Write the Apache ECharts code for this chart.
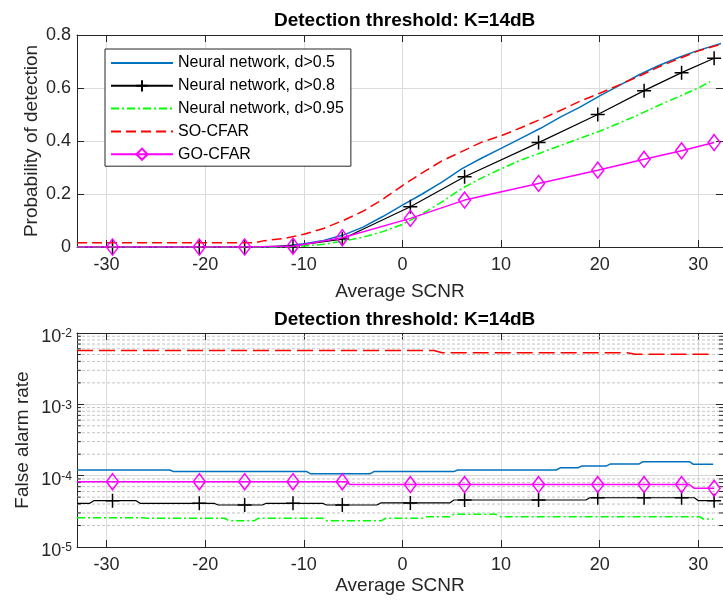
<!DOCTYPE html>
<html><head><meta charset="utf-8">
<script src="https://cdn.jsdelivr.net/npm/echarts@6/dist/echarts.min.js"></script>
<style>html,body{margin:0;padding:0;background:#fff}#c{width:723px;height:604px}</style>
</head><body><div id="c"></div>
<script>
const FONT = '"Liberation Sans", Arial, Helvetica, sans-serif';
const titleText = 'Detection threshold: K=14dB';
const xName = 'Average SCNR';
const pdName = 'Probability of detection';
const farName = 'False alarm rate';
const seriesNames = ['Neural network, d>0.5', 'Neural network, d>0.8', 'Neural network, d>0.95', 'SO-CFAR', 'GO-CFAR'];

// SCNR axis range
const xMin = -33, xMax = 32.5;

// SCNR positions of the markers
const markerX = [-29.4, -20.6, -16, -11.1, -6.1, 0.8, 6.3, 13.8, 19.8, 24.5, 28.3, 31.6];

// ---- Top: probability of detection ----
const pdBlueX = [-33, -13, -12, -10, -8, -6, -4, -2, 0, 2, 4, 6, 8, 10, 12, 14, 16, 18, 20, 22, 24, 26, 28, 30, 32.3];
const pdBlueY = [0, 0, 0.004, 0.012, 0.025, 0.045, 0.075, 0.115, 0.158, 0.2, 0.245, 0.295, 0.335, 0.372, 0.41, 0.448, 0.49, 0.528, 0.57, 0.61, 0.65, 0.685, 0.715, 0.742, 0.768];
const pdBlackX = [-33, -29.4, -20.6, -16, -11.1, -6.1, 0.8, 6.3, 13.8, 19.8, 24.5, 28.3, 31.6];
const pdBlackY = [0, 0, 0, 0, 0.004, 0.03, 0.152, 0.265, 0.394, 0.5, 0.59, 0.658, 0.712];
const pdGreenX = [-33, -12, -10, -8, -6, -4, -2, 0, 2, 4, 6, 8, 10, 12, 14, 16, 18, 20, 22, 24, 26, 28, 30, 31.2];
const pdGreenY = [0, 0, 0.004, 0.01, 0.022, 0.037, 0.058, 0.085, 0.125, 0.17, 0.22, 0.26, 0.295, 0.328, 0.355, 0.383, 0.41, 0.437, 0.468, 0.5, 0.535, 0.567, 0.6, 0.624];
const pdRedX = [-33, -15, -14, -12, -10, -8, -6, -4, -2, 0, 2, 4, 6, 8, 10, 12, 14, 16, 18, 20, 22, 24, 26, 28, 30, 32.3];
const pdRedY = [0.016, 0.016, 0.024, 0.032, 0.048, 0.07, 0.1, 0.135, 0.18, 0.232, 0.28, 0.325, 0.36, 0.395, 0.42, 0.45, 0.482, 0.515, 0.55, 0.58, 0.612, 0.645, 0.68, 0.71, 0.74, 0.765];
const pdMagX = [-33, -29.4, -20.6, -16, -11.1, -6.1, 0.8, 6.3, 13.8, 19.8, 24.5, 28.3, 31.6];
const pdMagY = [0, 0, 0, 0, 0.003, 0.035, 0.108, 0.177, 0.24, 0.29, 0.331, 0.363, 0.394];

// ---- Bottom: false alarm rate ----
const farBlueX = [-33, -23.6, -23.2, -9.7, -9.3, -3.3, -2.9, 5.2, 5.6, 15.6, 16.0, 17.8, 18.2, 20.7, 21.1, 24.0, 24.4, 29.1, 29.5, 31.5];
const farBlueY = [1.2e-4, 1.2e-4, 1.14e-4, 1.14e-4, 1.06e-4, 1.06e-4, 1.14e-4, 1.14e-4, 1.2e-4, 1.2e-4, 1.29e-4, 1.29e-4, 1.37e-4, 1.37e-4, 1.46e-4, 1.46e-4, 1.57e-4, 1.57e-4, 1.44e-4, 1.44e-4];
const farBlackX = [-33, -31.7, -31.3, -29.4, -27.0, -26.6, -20.6, -19.1, -18.7, -16, -14.2, -13.8, -11.1, -8.1, -7.7, -6.1, -2.6, -2.2, 0.8, 4.8, 5.2, 6.3, 13.8, 18.6, 19.0, 19.8, 24.5, 28.3, 29.6, 30.0, 31.6];
const farBlackY = [4.1e-5, 4.1e-5, 4.46e-5, 4.46e-5, 4.46e-5, 4.1e-5, 4.1e-5, 4.1e-5, 3.88e-5, 3.88e-5, 3.88e-5, 4.1e-5, 4.1e-5, 4.1e-5, 3.88e-5, 3.88e-5, 3.88e-5, 4.15e-5, 4.15e-5, 4.15e-5, 4.56e-5, 4.56e-5, 4.56e-5, 4.56e-5, 4.9e-5, 4.9e-5, 4.9e-5, 4.9e-5, 4.9e-5, 4.46e-5, 4.46e-5];
const farGreenX = [-33, -26.3, -25.9, -18.0, -17.6, -15.0, -14.6, -8.1, -7.7, -2.1, -1.7, 2.1, 2.5, 4.8, 5.2, 9.5, 9.9, 30.1, 30.5, 31.5];
const farGreenY = [2.58e-5, 2.58e-5, 2.53e-5, 2.53e-5, 2.34e-5, 2.34e-5, 2.53e-5, 2.53e-5, 2.34e-5, 2.34e-5, 2.53e-5, 2.53e-5, 2.66e-5, 2.66e-5, 2.87e-5, 2.87e-5, 2.66e-5, 2.66e-5, 2.47e-5, 2.47e-5];
const farRedX = [-33, 3.2, 4.0, 22.8, 23.6, 31.5];
const farRedY = [5.7e-3, 5.7e-3, 5.3e-3, 5.3e-3, 5.05e-3, 5.05e-3];
const farMagX = [-33, -29.4, -20.6, -16, -11.1, -6.1, -5.7, -5.3, 0.8, 6.3, 13.8, 19.8, 24.5, 28.3, 29.1, 29.6, 31.6];
const farMagY = [8.24e-5, 8.24e-5, 8.24e-5, 8.24e-5, 8.24e-5, 8.24e-5, 8.24e-5, 7.5e-5, 7.5e-5, 7.5e-5, 7.5e-5, 7.5e-5, 7.5e-5, 7.5e-5, 7.5e-5, 6.65e-5, 6.65e-5];

// log-axis minor grid / tick values
const farMinorTicks = [2e-5, 3e-5, 4e-5, 5e-5, 6e-5, 7e-5, 8e-5, 9e-5,
  2e-4, 3e-4, 4e-4, 5e-4, 6e-4, 7e-4, 8e-4, 9e-4,
  2e-3, 3e-3, 4e-3, 5e-3, 6e-3, 7e-3, 8e-3, 9e-3];
const minorTickLen = 0.4; // in SCNR units (~4 px)

const COL = { blue: '#0072BD', black: '#000000', green: '#00FF00', red: '#FF0000', mag: '#FF00FF' };
const AX = '#262626';
const PLUS = 'path://M5,0L5,10M0,5L10,5';

function pairs(xs, ys) { return xs.map((x, i) => [x, ys[i]]); }
function marked(xs, ys) {
  return xs.map((x, i) => markerX.indexOf(x) >= 0 ? { value: [x, ys[i]] } : { value: [x, ys[i]], symbol: 'none' });
}

function lineSeries(name, g, data, color, width, type, symbol, symbolSize, z) {
  return {
    type: 'line', name: name, xAxisIndex: g * 2, yAxisIndex: g * 2, data: data,
    silent: true, animation: false, z: z,
    lineStyle: { color: color, width: width, type: type },
    emphasis: { disabled: true },
    symbol: symbol || 'none', symbolSize: symbolSize || 4, showSymbol: !!symbol,
    itemStyle: { color: symbol === 'diamond' ? 'rgba(0,0,0,0)' : color, borderColor: color, borderWidth: 1.5 }
  };
}

function xAxes(g, bottom) {
  const common = { gridIndex: g, type: 'value', min: xMin, max: xMax, splitNumber: 6 };
  return [
    Object.assign({}, common, {
      position: 'bottom', name: xName, nameLocation: 'middle', nameGap: bottom ? 29 : 35, nameMoveOverlap: false,
      nameTextStyle: { fontSize: 19, fontFamily: FONT, color: AX, verticalAlign: 'top' },
      axisLine: { show: true, onZero: false, lineStyle: { color: AX, width: 1 } },
      axisTick: { show: true, inside: true, length: 7, lineStyle: { color: AX } },
      axisLabel: { fontSize: 18, fontFamily: FONT, color: AX, margin: 9, showMinLabel: false, showMaxLabel: false,
        formatter: v => (Math.abs(v % 10) < 1e-9 ? String(v) : '') },
      splitLine: { show: true, lineStyle: { color: '#dcdcdc', width: 1 } }
    }),
    Object.assign({}, common, {
      position: 'top',
      axisLine: { show: true, onZero: false, lineStyle: { color: AX, width: 1 } },
      axisTick: { show: true, inside: true, length: 7, lineStyle: { color: AX } },
      axisLabel: { show: false }, splitLine: { show: false }
    })
  ];
}

function minorGridData() {
  const d = [];
  farMinorTicks.forEach(v => { d.push([xMin, v], [xMax, v], ['-', '-']); });
  return d;
}
function minorTickData() {
  const d = [];
  farMinorTicks.forEach(v => {
    d.push([xMin, v], [xMin + minorTickLen, v], ['-', '-']);
    d.push([xMax - minorTickLen, v], [xMax, v], ['-', '-']);
  });
  return d;
}

const noSym = { opacity: 0 };
const option = {
  animation: false,
  backgroundColor: '#ffffff',
  title: [
    { text: titleText, left: 269, top: 6, textStyle: { fontSize: 19, fontWeight: 'bold', fontFamily: FONT, color: '#000' } },
    { text: titleText, left: 269, top: 305, textStyle: { fontSize: 19, fontWeight: 'bold', fontFamily: FONT, color: '#000' } }
  ],
  grid: [
    { left: 77, top: 35, right: 0, height: 212, containLabel: false },
    { left: 77, top: 333, right: 0, height: 214, containLabel: false }
  ],
  legend: {
    orient: 'vertical', left: 105, top: 49,
    itemWidth: 62, itemHeight: 14, itemGap: 6.8,
    padding: [6, 7, 4, 5],
    backgroundColor: '#fff', borderColor: AX, borderWidth: 1, borderRadius: 0,
    textStyle: { fontSize: 16, fontFamily: FONT, color: '#000' },
    data: [
      { name: seriesNames[0], itemStyle: noSym },
      { name: seriesNames[1] },
      { name: seriesNames[2], itemStyle: noSym },
      { name: seriesNames[3], itemStyle: noSym },
      { name: seriesNames[4] }
    ],
    selectedMode: false
  },
  xAxis: xAxes(0, false).concat(xAxes(1, true)),
  yAxis: [
    { gridIndex: 0, type: 'value', min: 0, max: 0.8, interval: 0.2, position: 'left',
      name: pdName, nameLocation: 'middle', nameGap: 36, nameMoveOverlap: false,
      nameTextStyle: { fontSize: 19, fontFamily: FONT, color: AX },
      axisLine: { show: true, onZero: false, lineStyle: { color: AX, width: 1 } },
      axisTick: { show: true, inside: true, length: 7, lineStyle: { color: AX } },
      axisLabel: { fontSize: 18, fontFamily: FONT, color: AX, margin: 6 },
      splitLine: { show: true, lineStyle: { color: '#dcdcdc', width: 1 } } },
    { gridIndex: 0, type: 'value', min: 0, max: 0.8, interval: 0.2, position: 'right',
      axisLine: { show: true, onZero: false, lineStyle: { color: AX, width: 1 } },
      axisTick: { show: true, inside: true, length: 7, lineStyle: { color: AX } },
      axisLabel: { show: false }, splitLine: { show: false } },
    { gridIndex: 1, type: 'log', logBase: 10, min: 1e-5, max: 1e-2, position: 'left',
      name: farName, nameLocation: 'middle', nameGap: 45, nameMoveOverlap: false,
      nameTextStyle: { fontSize: 19, fontFamily: FONT, color: AX },
      axisLine: { show: true, onZero: false, lineStyle: { color: AX, width: 1 } },
      axisTick: { show: true, inside: true, length: 7, lineStyle: { color: AX } },
      axisLabel: { margin: 5, padding: [8, 0, 0, 0],
        formatter: v => '{b|10}{s|' + Math.round(Math.log10(v)) + '}',
        rich: {
          b: { fontSize: 18, fontFamily: FONT, color: AX, lineHeight: 18, verticalAlign: 'bottom' },
          s: { fontSize: 12, fontFamily: FONT, color: AX, lineHeight: 12, verticalAlign: 'top' }
        } },
      splitLine: { show: true, lineStyle: { color: '#d6d6d6', width: 1 } } },
    { gridIndex: 1, type: 'log', logBase: 10, min: 1e-5, max: 1e-2, position: 'right',
      axisLine: { show: true, onZero: false, lineStyle: { color: AX, width: 1 } },
      axisTick: { show: true, inside: true, length: 7, lineStyle: { color: AX } },
      axisLabel: { show: false }, splitLine: { show: false } }
  ],
  series: [
    lineSeries(seriesNames[0], 0, pairs(pdBlueX, pdBlueY), COL.blue, 1.5, 'solid', null, 0, 3),
    lineSeries(seriesNames[1], 0, marked(pdBlackX, pdBlackY), COL.black, 1.2, 'solid', PLUS, 14, 4),
    lineSeries(seriesNames[2], 0, pairs(pdGreenX, pdGreenY), COL.green, 1.5, [8, 3, 2, 3], null, 0, 5),
    lineSeries(seriesNames[3], 0, pairs(pdRedX, pdRedY), COL.red, 1.5, [10, 5], null, 0, 6),
    lineSeries(seriesNames[4], 0, marked(pdMagX, pdMagY), COL.mag, 1.5, 'solid', 'diamond', [12, 16], 7),

    { type: 'line', name: 'minor-grid', xAxisIndex: 2, yAxisIndex: 2, data: minorGridData(),
      symbol: 'none', showSymbol: false, silent: true, z: 1, connectNulls: false, animation: false,
      lineStyle: { color: '#c4c4c4', type: [3, 2], width: 1 }, emphasis: { disabled: true } },
    { type: 'line', name: 'minor-ticks', xAxisIndex: 2, yAxisIndex: 2, data: minorTickData(),
      symbol: 'none', showSymbol: false, silent: true, z: 2, connectNulls: false, animation: false,
      lineStyle: { color: AX, width: 1 }, emphasis: { disabled: true } },

    lineSeries(seriesNames[0], 1, pairs(farBlueX, farBlueY), COL.blue, 1.5, 'solid', null, 0, 3),
    lineSeries(seriesNames[1], 1, marked(farBlackX, farBlackY), COL.black, 1.2, 'solid', PLUS, 14, 4),
    lineSeries(seriesNames[2], 1, pairs(farGreenX, farGreenY), COL.green, 1.5, [8, 3, 2, 3], null, 0, 5),
    lineSeries(seriesNames[3], 1, pairs(farRedX, farRedY), COL.red, 1.5, [16, 6], null, 0, 6),
    lineSeries(seriesNames[4], 1, marked(farMagX, farMagY), COL.mag, 1.5, 'solid', 'diamond', [12, 16], 7)
  ]
};

const chart = echarts.init(document.getElementById('c'), null, { renderer: 'canvas' });
chart.setOption(option);
</script>
</body></html>
